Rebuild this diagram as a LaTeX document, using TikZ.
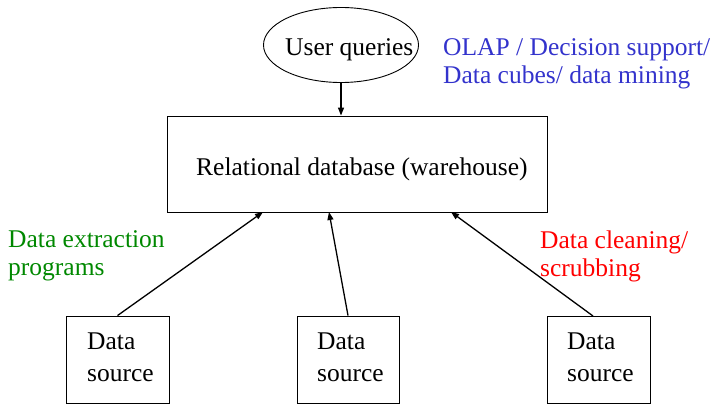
\documentclass[tikz,border=0pt]{standalone}
\usepackage{fontspec}
\setmainfont{Liberation Serif}
\newfontfamily\tms{Liberation Serif}
\usetikzlibrary{shapes.geometric,arrows.meta}
\definecolor{olapblue}{RGB}{51,51,204}
\definecolor{extgreen}{RGB}{0,136,0}
\definecolor{cleanred}{RGB}{255,0,0}
\tikzset{
  box/.style={draw,line width=0.9pt,inner sep=0pt},
  lbl/.style={font=\tms\fontsize{25.5}{28}\selectfont,inner sep=0pt,anchor=west,align=left},
  dsl/.style={font=\tms\fontsize{25.5}{32}\selectfont,inner sep=0pt,anchor=west,align=left},
  conn/.style={line width=1.3pt,-{Triangle[length=8pt,width=6pt]}}
}
\begin{document}
\begin{tikzpicture}[x=1pt,y=-1pt]
\useasboundingbox (0,0) rectangle (714,406);
\node[draw,ellipse,line width=0.9pt,minimum width=155pt,minimum height=75pt,inner sep=0pt] (uq) at (341,45) {};
\node[lbl] (uqt) at (285,50) {User queries};
\node[box,minimum width=380pt,minimum height=96pt] (main) at (357,164) {};
\node[lbl] (maint) at (196,169) {Relational database (warehouse)};
\node[box,minimum width=103pt,minimum height=87pt] (ds1) at (117.5,359.5) {};
\node[box,minimum width=102pt,minimum height=87pt] (ds2) at (348,359.5) {};
\node[box,minimum width=103pt,minimum height=87pt] (ds3) at (598.5,359.5) {};
\node[dsl] (ds1t) at (87,357.5) {Data\\source};
\node[dsl] (ds2t) at (317,357.5) {Data\\source};
\node[dsl] (ds3t) at (567,357.5) {Data\\source};
\node[lbl,text=olapblue] (olap) at (443,63.5) {OLAP / Decision support/\\Data cubes/ data mining};
\node[lbl,text=extgreen] (ext) at (8,256) {Data extraction\\programs};
\node[lbl,text=cleanred] (clean) at (540,256) {Data cleaning/\\scrubbing};
\coordinate (a1) at (263,212);
\coordinate (a2) at (329,212);
\coordinate (a3) at (451,212);
\coordinate (s3) at (593,316);
\draw[conn] (uq.south) -- (uq.south |- main.north);
\draw[conn] (ds1.north) -- (a1);
\draw[conn] (ds2.north) -- (a2);
\draw[conn] (s3) -- (a3);
\end{tikzpicture}
\end{document}
